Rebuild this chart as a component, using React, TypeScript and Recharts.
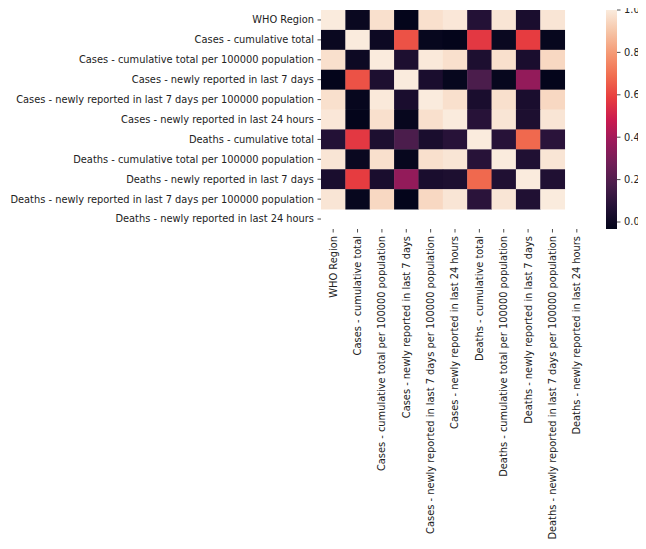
import { Scatter, ScatterChart, XAxis, YAxis } from 'recharts';

const LABELS = [
  'WHO Region',
  'Cases - cumulative total',
  'Cases - cumulative total per 100000 population',
  'Cases - newly reported in last 7 days',
  'Cases - newly reported in last 7 days per 100000 population',
  'Cases - newly reported in last 24 hours',
  'Deaths - cumulative total',
  'Deaths - cumulative total per 100000 population',
  'Deaths - newly reported in last 7 days',
  'Deaths - newly reported in last 7 days per 100000 population',
  'Deaths - newly reported in last 24 hours',
];

// correlation matrix (last row / column is NaN)
const ROW_WHO = [1, -0.01, 0.97, -0.03, 0.97, 0.99, 0.07, 0.985, 0.04, 0.985, null];
const ROW_CASES_TOTAL = [-0.01, 1, 0.0, 0.63, -0.02, -0.03, 0.57, -0.01, 0.58, -0.02, null];
const ROW_CASES_TOTAL_PC = [0.97, 0.0, 1, 0.05, 0.995, 0.97, 0.05, 0.97, 0.04, 0.95, null];
const ROW_CASES_7D = [-0.03, 0.63, 0.05, 1, 0.04, -0.02, 0.18, -0.02, 0.36, -0.03, null];
const ROW_CASES_7D_PC = [0.97, -0.02, 0.995, 0.04, 1, 0.97, 0.04, 0.97, 0.04, 0.95, null];
const ROW_CASES_24H = [0.99, -0.03, 0.97, -0.02, 0.97, 1, 0.08, 0.985, 0.05, 0.985, null];
const ROW_DEATHS_TOTAL = [0.07, 0.57, 0.05, 0.18, 0.04, 0.08, 1, 0.08, 0.68, 0.09, null];
const ROW_DEATHS_TOTAL_PC = [0.985, -0.01, 0.97, -0.02, 0.97, 0.985, 0.08, 1, 0.06, 0.985, null];
const ROW_DEATHS_7D = [0.04, 0.58, 0.04, 0.36, 0.04, 0.05, 0.68, 0.06, 1, 0.06, null];
const ROW_DEATHS_7D_PC = [0.985, -0.02, 0.95, -0.03, 0.95, 0.985, 0.09, 0.985, 0.06, 1, null];
const ROW_DEATHS_24H = [null, null, null, null, null, null, null, null, null, null, null];

const MATRIX = [
  ROW_WHO,
  ROW_CASES_TOTAL,
  ROW_CASES_TOTAL_PC,
  ROW_CASES_7D,
  ROW_CASES_7D_PC,
  ROW_CASES_24H,
  ROW_DEATHS_TOTAL,
  ROW_DEATHS_TOTAL_PC,
  ROW_DEATHS_7D,
  ROW_DEATHS_7D_PC,
  ROW_DEATHS_24H,
];

const COLORBAR_TICKS = [0, 0.2, 0.4, 0.6, 0.8, 1.0];
const VMIN = -0.033;
const VMAX = 1;

// approximate seaborn "rocket" colormap
const ROCKET = [
  [3, 5, 26],
  [35, 17, 54],
  [73, 29, 75],
  [113, 31, 87],
  [155, 26, 91],
  [203, 27, 79],
  [232, 62, 63],
  [241, 110, 80],
  [245, 152, 115],
  [246, 196, 166],
  [250, 235, 221],
];

function rocket(t: number) {
  const c = Math.min(1, Math.max(0, t)) * (ROCKET.length - 1);
  const i = Math.min(ROCKET.length - 2, Math.floor(c));
  const f = c - i;
  const rgb = ROCKET[i].map((v, k) => Math.round(v + (ROCKET[i + 1][k] - v) * f));
  return `rgb(${rgb.join(',')})`;
}

function colorFor(v: number) {
  return rocket((v - VMIN) / (VMAX - VMIN));
}

// the wrapper cancels the body margin, so chart coords == page coords
const N = LABELS.length;
const CHART_W = 646;
const CHART_H = 549;
const MARGIN = { top: 10, right: 57, bottom: 0, left: 0 };
const Y_AXIS_W = 321;
const X_AXIS_H = 320;
const PLOT_W = CHART_W - MARGIN.left - MARGIN.right - Y_AXIS_W;
const PLOT_H = CHART_H - MARGIN.top - MARGIN.bottom - X_AXIS_H;
const CELL_W = PLOT_W / N;
const CELL_H = PLOT_H / N;
const FONT = '"DejaVu Sans", sans-serif';
const FONT_SIZE = 9.85;
const TEXT = '#222';

const TICKS = LABELS.map((_, i) => i + 0.5);

const cells = MATRIX.flatMap((row, r) =>
  row
    .map((v, c) => ({ x: c + 0.5, y: r + 0.5, v }))
    .filter((d) => d.v !== null),
);

function HeatCell(props: any) {
  const { cx, cy, payload } = props;
  return (
    <rect
      x={cx - CELL_W / 2}
      y={cy - CELL_H / 2}
      width={CELL_W + 0.4}
      height={CELL_H + 0.4}
      fill={colorFor(payload.v)}
    />
  );
}

function XTick(props: any) {
  const { x, y, payload } = props;
  const label = LABELS[Math.floor(payload.value)];
  return (
    <text
      x={0}
      y={0}
      transform={`translate(${x},${y}) rotate(-90)`}
      textAnchor="end"
      dy="0.35em"
      fontSize={FONT_SIZE}
      fontFamily={FONT}
      fill={TEXT}
    >
      {label}
    </text>
  );
}

function YTick(props: any) {
  const { x, y, payload } = props;
  const label = LABELS[Math.floor(payload.value)];
  return (
    <text x={x} y={y} textAnchor="end" dy="0.35em" fontSize={FONT_SIZE} fontFamily={FONT} fill={TEXT}>
      {label}
    </text>
  );
}

// drawn inside the chart's svg, to the right of the plot area
function ColorBar() {
  const barX = 606;
  const barY = MARGIN.top;
  const barW = 11;
  const barH = PLOT_H;
  const stops = ROCKET.map((_, i) => i / (ROCKET.length - 1));
  return (
    <g className="colorbar" transform={`translate(${barX},${barY})`}>
      <defs>
        <linearGradient id="rocketGrad" x1="0" y1="1" x2="0" y2="0">
          {stops.map((t) => (
            <stop key={t} offset={t} stopColor={rocket(t)} />
          ))}
        </linearGradient>
      </defs>
      <rect x={0} y={0} width={barW} height={barH} fill="url(#rocketGrad)" />
      {COLORBAR_TICKS.map((v) => {
        const ty = ((VMAX - v) / (VMAX - VMIN)) * barH;
        return (
          <g key={v}>
            <line x1={barW} x2={barW + 3.5} y1={ty} y2={ty} stroke={TEXT} strokeWidth={0.8} />
            <text x={barW + 7} y={ty} dy="0.35em" fontSize={FONT_SIZE} fontFamily={FONT} fill={TEXT}>
              {v.toFixed(1)}
            </text>
          </g>
        );
      })}
    </g>
  );
}

export default function App() {
  return (
    <div style={{ margin: '-8px 0 0 -8px', width: CHART_W, height: CHART_H }}>
      <ScatterChart width={CHART_W} height={CHART_H} margin={MARGIN}>
        <XAxis
          type="number"
          dataKey="x"
          domain={[0, N]}
          ticks={TICKS}
          interval={0}
          height={X_AXIS_H}
          axisLine={false}
          tickSize={3.5}
          tickMargin={3.5}
          tickLine={{ stroke: TEXT, strokeWidth: 0.8 }}
          tick={<XTick />}
          allowDataOverflow
        />
        <YAxis
          type="number"
          dataKey="y"
          domain={[0, N]}
          reversed
          ticks={TICKS}
          interval={0}
          width={Y_AXIS_W}
          axisLine={false}
          tickSize={3.5}
          tickMargin={3.5}
          tickLine={{ stroke: TEXT, strokeWidth: 0.8 }}
          tick={<YTick />}
          allowDataOverflow
        />
        <Scatter data={cells} shape={<HeatCell />} isAnimationActive={false} />
        <ColorBar />
      </ScatterChart>
    </div>
  );
}
